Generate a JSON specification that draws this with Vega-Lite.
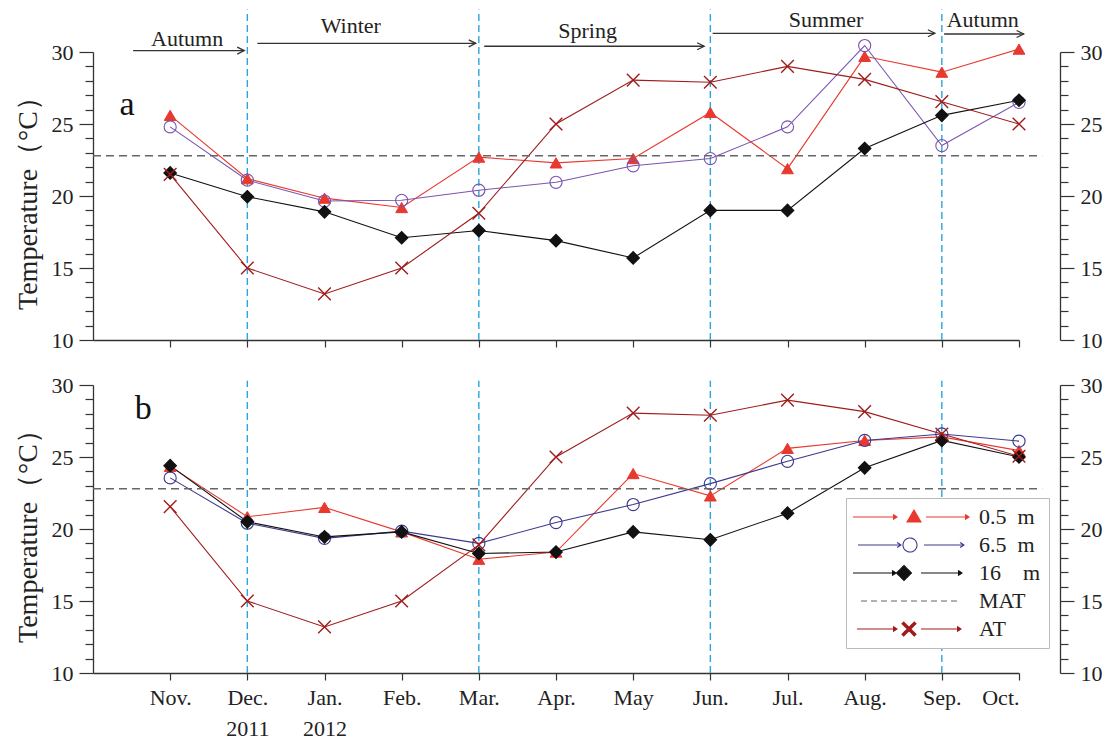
{
  "$schema": "https://vega.github.io/schema/vega-lite/v6.json",
  "padding": {"left": 14, "top": 8, "right": 5, "bottom": 0},
  "background": "white",
  "config": {"view": {"stroke": null}, "font": "Liberation Serif"},
  "datasets": {
    "temps": [
      {"panel":"a","month":"Nov.","m":1,"series":"0.5 m","T":25.6},{"panel":"a","month":"Nov.","m":1,"series":"6.5 m","T":24.8},{"panel":"a","month":"Nov.","m":1,"series":"16 m","T":21.6},{"panel":"a","month":"Nov.","m":1,"series":"AT","T":21.5},
      {"panel":"a","month":"Dec.","m":2,"series":"0.5 m","T":21.2},{"panel":"a","month":"Dec.","m":2,"series":"6.5 m","T":21.1},{"panel":"a","month":"Dec.","m":2,"series":"16 m","T":19.95},{"panel":"a","month":"Dec.","m":2,"series":"AT","T":15.0},
      {"panel":"a","month":"Jan.","m":3,"series":"0.5 m","T":19.85},{"panel":"a","month":"Jan.","m":3,"series":"6.5 m","T":19.65},{"panel":"a","month":"Jan.","m":3,"series":"16 m","T":18.9},{"panel":"a","month":"Jan.","m":3,"series":"AT","T":13.2},
      {"panel":"a","month":"Feb.","m":4,"series":"0.5 m","T":19.2},{"panel":"a","month":"Feb.","m":4,"series":"6.5 m","T":19.7},{"panel":"a","month":"Feb.","m":4,"series":"16 m","T":17.1},{"panel":"a","month":"Feb.","m":4,"series":"AT","T":15.0},
      {"panel":"a","month":"Mar.","m":5,"series":"0.5 m","T":22.7},{"panel":"a","month":"Mar.","m":5,"series":"6.5 m","T":20.4},{"panel":"a","month":"Mar.","m":5,"series":"16 m","T":17.6},{"panel":"a","month":"Mar.","m":5,"series":"AT","T":18.8},
      {"panel":"a","month":"Apr.","m":6,"series":"0.5 m","T":22.3},{"panel":"a","month":"Apr.","m":6,"series":"6.5 m","T":20.95},{"panel":"a","month":"Apr.","m":6,"series":"16 m","T":16.9},{"panel":"a","month":"Apr.","m":6,"series":"AT","T":25.0},
      {"panel":"a","month":"May","m":7,"series":"0.5 m","T":22.6},{"panel":"a","month":"May","m":7,"series":"6.5 m","T":22.1},{"panel":"a","month":"May","m":7,"series":"16 m","T":15.7},{"panel":"a","month":"May","m":7,"series":"AT","T":28.05},
      {"panel":"a","month":"Jun.","m":8,"series":"0.5 m","T":25.8},{"panel":"a","month":"Jun.","m":8,"series":"6.5 m","T":22.6},{"panel":"a","month":"Jun.","m":8,"series":"16 m","T":19.0},{"panel":"a","month":"Jun.","m":8,"series":"AT","T":27.9},
      {"panel":"a","month":"Jul.","m":9,"series":"0.5 m","T":21.9},{"panel":"a","month":"Jul.","m":9,"series":"6.5 m","T":24.8},{"panel":"a","month":"Jul.","m":9,"series":"16 m","T":19.0},{"panel":"a","month":"Jul.","m":9,"series":"AT","T":29.0},
      {"panel":"a","month":"Aug.","m":10,"series":"0.5 m","T":29.7},{"panel":"a","month":"Aug.","m":10,"series":"6.5 m","T":30.45},{"panel":"a","month":"Aug.","m":10,"series":"16 m","T":23.3},{"panel":"a","month":"Aug.","m":10,"series":"AT","T":28.1},
      {"panel":"a","month":"Sep.","m":11,"series":"0.5 m","T":28.6},{"panel":"a","month":"Sep.","m":11,"series":"6.5 m","T":23.5},{"panel":"a","month":"Sep.","m":11,"series":"16 m","T":25.6},{"panel":"a","month":"Sep.","m":11,"series":"AT","T":26.55},
      {"panel":"a","month":"Oct.","m":12,"series":"0.5 m","T":30.2},{"panel":"a","month":"Oct.","m":12,"series":"6.5 m","T":26.5},{"panel":"a","month":"Oct.","m":12,"series":"16 m","T":26.65},{"panel":"a","month":"Oct.","m":12,"series":"AT","T":25.0},
      {"panel":"b","month":"Nov.","m":1,"series":"0.5 m","T":24.35},{"panel":"b","month":"Nov.","m":1,"series":"6.5 m","T":23.55},{"panel":"b","month":"Nov.","m":1,"series":"16 m","T":24.4},{"panel":"b","month":"Nov.","m":1,"series":"AT","T":21.55},
      {"panel":"b","month":"Dec.","m":2,"series":"0.5 m","T":20.85},{"panel":"b","month":"Dec.","m":2,"series":"6.5 m","T":20.4},{"panel":"b","month":"Dec.","m":2,"series":"16 m","T":20.5},{"panel":"b","month":"Dec.","m":2,"series":"AT","T":15.0},
      {"panel":"b","month":"Jan.","m":3,"series":"0.5 m","T":21.5},{"panel":"b","month":"Jan.","m":3,"series":"6.5 m","T":19.35},{"panel":"b","month":"Jan.","m":3,"series":"16 m","T":19.45},{"panel":"b","month":"Jan.","m":3,"series":"AT","T":13.2},
      {"panel":"b","month":"Feb.","m":4,"series":"0.5 m","T":19.8},{"panel":"b","month":"Feb.","m":4,"series":"6.5 m","T":19.85},{"panel":"b","month":"Feb.","m":4,"series":"16 m","T":19.8},{"panel":"b","month":"Feb.","m":4,"series":"AT","T":15.0},
      {"panel":"b","month":"Mar.","m":5,"series":"0.5 m","T":17.9},{"panel":"b","month":"Mar.","m":5,"series":"6.5 m","T":19.0},{"panel":"b","month":"Mar.","m":5,"series":"16 m","T":18.3},{"panel":"b","month":"Mar.","m":5,"series":"AT","T":18.9},
      {"panel":"b","month":"Apr.","m":6,"series":"0.5 m","T":18.4},{"panel":"b","month":"Apr.","m":6,"series":"6.5 m","T":20.45},{"panel":"b","month":"Apr.","m":6,"series":"16 m","T":18.4},{"panel":"b","month":"Apr.","m":6,"series":"AT","T":25.0},
      {"panel":"b","month":"May","m":7,"series":"0.5 m","T":23.85},{"panel":"b","month":"May","m":7,"series":"6.5 m","T":21.7},{"panel":"b","month":"May","m":7,"series":"16 m","T":19.8},{"panel":"b","month":"May","m":7,"series":"AT","T":28.05},
      {"panel":"b","month":"Jun.","m":8,"series":"0.5 m","T":22.3},{"panel":"b","month":"Jun.","m":8,"series":"6.5 m","T":23.15},{"panel":"b","month":"Jun.","m":8,"series":"16 m","T":19.25},{"panel":"b","month":"Jun.","m":8,"series":"AT","T":27.9},
      {"panel":"b","month":"Jul.","m":9,"series":"0.5 m","T":25.6},{"panel":"b","month":"Jul.","m":9,"series":"6.5 m","T":24.7},{"panel":"b","month":"Jul.","m":9,"series":"16 m","T":21.1},{"panel":"b","month":"Jul.","m":9,"series":"AT","T":28.95},
      {"panel":"b","month":"Aug.","m":10,"series":"0.5 m","T":26.15},{"panel":"b","month":"Aug.","m":10,"series":"6.5 m","T":26.15},{"panel":"b","month":"Aug.","m":10,"series":"16 m","T":24.25},{"panel":"b","month":"Aug.","m":10,"series":"AT","T":28.15},
      {"panel":"b","month":"Sep.","m":11,"series":"0.5 m","T":26.4},{"panel":"b","month":"Sep.","m":11,"series":"6.5 m","T":26.6},{"panel":"b","month":"Sep.","m":11,"series":"16 m","T":26.15},{"panel":"b","month":"Sep.","m":11,"series":"AT","T":26.6},
      {"panel":"b","month":"Oct.","m":12,"series":"0.5 m","T":25.45},{"panel":"b","month":"Oct.","m":12,"series":"6.5 m","T":26.1},{"panel":"b","month":"Oct.","m":12,"series":"16 m","T":25.0},{"panel":"b","month":"Oct.","m":12,"series":"AT","T":25.05}
    ],
    "boundaries": [{"m":2},{"m":5},{"m":8},{"m":11}],
    "seasons": [
      {"season":"Autumn","start":0.52,"end":1.96,"arrowAt":30.1,"mid":1.22,"textAt":30.9},
      {"season":"Winter","start":2.13,"end":4.96,"arrowAt":30.6,"mid":3.34,"textAt":31.8},
      {"season":"Spring","start":5.07,"end":7.92,"arrowAt":30.4,"mid":6.41,"textAt":31.45},
      {"season":"Summer","start":8.03,"end":10.91,"arrowAt":31.3,"mid":9.5,"textAt":32.2},
      {"season":"Autumn","start":11.03,"end":12.06,"arrowAt":31.25,"mid":11.53,"textAt":32.2}
    ],
    "mat": [{"name":"MAT","T":22.8}]
  },
  "vconcat": [
    {
      "width": 926,
      "height": 288,
      "layer": [
        {
          "data": {"name": "boundaries"},
          "mark": {"type": "rule", "strokeDash": [7, 4], "color": "#2ba5df", "strokeWidth": 1.4},
          "encoding": {
            "x": {"field": "m", "type": "quantitative", "scale": {"domain": [0, 12], "nice": false, "zero": false},
              "axis": {"title": null, "values": [1,2,3,4,5,6,7,8,9,10,11,12], "labels": false, "tickSize": 7, "grid": false, "domainColor": "#333", "tickColor": "#333", "domainWidth": 1.3, "tickWidth": 1.2}},
            "y": {"datum": 10, "type": "quantitative", "scale": {"domain": [10, 30], "nice": false, "zero": false},
              "axis": {"orient": "left", "title": "Temperature（°C）", "values": [10,11,12,13,14,15,16,17,18,19,20,21,22,23,24,25,26,27,28,29,30],
                "labelExpr": "datum.value % 5 === 0 ? datum.label : ''", "labelOverlap": false,
                "tickSize": {"condition": {"test": "datum.value % 5 === 0", "value": 14}, "value": 8},
                "labelFont": "Liberation Serif", "labelFontSize": 22, "labelColor": "#222", "labelPadding": 6,
                "titleFont": "Liberation Serif", "titleFontSize": 28, "titleFontWeight": "normal", "titleColor": "#222", "titlePadding": 9,
                "grid": false, "domainColor": "#333", "tickColor": "#333", "domainWidth": 1.3, "tickWidth": 1.2}},
            "y2": {"datum": 32.95}
          }
        },
        {
          "layer": [
            {
              "data": {"name": "temps"},
              "transform": [{"filter": "datum.panel === 'a'"}],
              "mark": {"type": "line", "strokeWidth": 1.1},
              "encoding": {
                "x": {"field": "m", "type": "quantitative", "scale": {"domain": [0, 12], "nice": false, "zero": false}},
                "y": {"field": "T", "type": "quantitative", "scale": {"domain": [10, 30], "nice": false, "zero": false}, "axis": null},
                "color": {"field": "series", "type": "nominal", "scale": {"domain": ["0.5 m", "6.5 m", "16 m", "MAT", "AT"], "range": ["#e8392f", "#7a55b0", "#111111", "#666666", "#a01c1c"]}, "legend": null}
              }
            },
            {
              "data": {"name": "temps"},
              "transform": [{"filter": "datum.panel === 'a'"}],
              "mark": {"type": "point", "opacity": 1},
              "encoding": {
                "x": {"field": "m", "type": "quantitative", "scale": {"domain": [0, 12], "nice": false, "zero": false}},
                "y": {"field": "T", "type": "quantitative", "scale": {"domain": [10, 30], "nice": false, "zero": false}, "axis": null},
                "shape": {"field": "series", "type": "nominal", "scale": {"domain": ["0.5 m", "6.5 m", "16 m", "AT"], "range": ["triangle-up", "circle", "diamond", "M-1,-1L1,1M-1,1L1,-1"]}, "legend": null},
                "fill": {"field": "series", "type": "nominal", "scale": {"domain": ["0.5 m", "6.5 m", "16 m", "AT"], "range": ["#e8392f", "transparent", "#111111", "transparent"]}, "legend": null},
                "stroke": {"field": "series", "type": "nominal", "scale": {"domain": ["0.5 m", "6.5 m", "16 m", "AT"], "range": ["#e8392f", "#7a55b0", "#111111", "#a01c1c"]}, "legend": null},
                "size": {"field": "series", "type": "nominal", "scale": {"domain": ["0.5 m", "6.5 m", "16 m", "AT"], "range": [140, 160, 130, 150]}, "legend": null},
                "strokeWidth": {"field": "series", "type": "nominal", "scale": {"domain": ["0.5 m", "6.5 m", "16 m", "AT"], "range": [1, 1.4, 1, 2.2]}, "legend": null}
              }
            },
            {
              "data": {"name": "seasons"},
              "mark": {"type": "rule", "color": "#333", "strokeWidth": 1.3},
              "encoding": {
                "x": {"field": "start", "type": "quantitative", "scale": {"domain": [0, 12], "nice": false, "zero": false}},
                "x2": {"field": "end"},
                "y": {"field": "arrowAt", "type": "quantitative", "scale": {"domain": [10, 30], "nice": false, "zero": false}, "axis": null}
              }
            },
            {
              "data": {"name": "seasons"},
              "mark": {"type": "point", "shape": "M-2,-1L0,0L-2,1", "size": 49, "filled": false, "stroke": "#333", "strokeWidth": 1.3, "opacity": 1},
              "encoding": {
                "x": {"field": "end", "type": "quantitative", "scale": {"domain": [0, 12], "nice": false, "zero": false}},
                "y": {"field": "arrowAt", "type": "quantitative", "scale": {"domain": [10, 30], "nice": false, "zero": false}, "axis": null}
              }
            },
            {
              "data": {"name": "seasons"},
              "mark": {"type": "text", "font": "Liberation Serif", "fontSize": 22, "color": "#222", "baseline": "middle", "align": "center"},
              "encoding": {
                "x": {"field": "mid", "type": "quantitative", "scale": {"domain": [0, 12], "nice": false, "zero": false}},
                "y": {"field": "textAt", "type": "quantitative", "scale": {"domain": [10, 30], "nice": false, "zero": false}, "axis": null},
                "text": {"field": "season"}
              }
            },
            {
              "data": {"values": [{"panelLabel": "a"}]},
              "mark": {"type": "text", "font": "Liberation Serif", "fontSize": 34, "color": "#111", "baseline": "middle", "align": "center"},
              "encoding": {
                "x": {"datum": 0.44, "type": "quantitative", "scale": {"domain": [0, 12], "nice": false, "zero": false}},
                "y": {"datum": 26.3, "type": "quantitative", "scale": {"domain": [10, 30], "nice": false, "zero": false}, "axis": null},
                "text": {"field": "panelLabel"}
              }
            }
          ]
        },
        {
          "data": {"name": "mat"},
          "mark": {"type": "rule", "strokeDash": [8, 5], "color": "#666", "strokeWidth": 1.4},
          "encoding": {
            "x": {"datum": 0, "type": "quantitative", "scale": {"domain": [0, 12], "nice": false, "zero": false}},
            "x2": {"datum": 12.3},
            "y": {"field": "T", "type": "quantitative", "scale": {"domain": [10, 30], "nice": false, "zero": false},
              "axis": {"orient": "right", "offset": 41, "title": null, "values": [10,11,12,13,14,15,16,17,18,19,20,21,22,23,24,25,26,27,28,29,30],
                "labelExpr": "datum.value % 5 === 0 ? datum.label : ''", "labelOverlap": false,
                "tickSize": {"condition": {"test": "datum.value % 5 === 0", "value": 14}, "value": 8},
                "labelFont": "Liberation Serif", "labelFontSize": 22, "labelColor": "#222", "labelPadding": 6,
                "grid": false, "domainColor": "#333", "tickColor": "#333", "domainWidth": 1.3, "tickWidth": 1.2}}
          }
        }
      ],
      "resolve": {"scale": {"y": "independent"}}
    },
    {
      "width": 926,
      "height": 288,
      "layer": [
        {
          "data": {"name": "boundaries"},
          "mark": {"type": "rule", "strokeDash": [7, 4], "color": "#2ba5df", "strokeWidth": 1.4},
          "encoding": {
            "x": {"field": "m", "type": "quantitative", "scale": {"domain": [0, 12], "nice": false, "zero": false},
              "axis": {"title": null, "values": [1,2,3,4,5,6,7,8,9,10,11,12],
                "labelExpr": "[['Nov.'], ['Dec.', '2011'], ['Jan.', '2012'], ['Feb.'], ['Mar.'], ['Apr.'], ['May'], ['Jun.'], ['Jul.'], ['Aug.'], ['Sep.'], ['Oct.']][datum.value - 1]",
                "labelFont": "Liberation Serif", "labelFontSize": 22, "labelColor": "#222", "labelLineHeight": 31, "labelPadding": 7, "labelOverlap": false,
                "tickSize": 7, "grid": false, "domainColor": "#333", "tickColor": "#333", "domainWidth": 1.3, "tickWidth": 1.2}},
            "y": {"datum": 10, "type": "quantitative", "scale": {"domain": [10, 30], "nice": false, "zero": false},
              "axis": {"orient": "left", "title": "Temperature（°C）", "values": [10,11,12,13,14,15,16,17,18,19,20,21,22,23,24,25,26,27,28,29,30],
                "labelExpr": "datum.value % 5 === 0 ? datum.label : ''", "labelOverlap": false,
                "tickSize": {"condition": {"test": "datum.value % 5 === 0", "value": 14}, "value": 8},
                "labelFont": "Liberation Serif", "labelFontSize": 22, "labelColor": "#222", "labelPadding": 6,
                "titleFont": "Liberation Serif", "titleFontSize": 28, "titleFontWeight": "normal", "titleColor": "#222", "titlePadding": 9,
                "grid": false, "domainColor": "#333", "tickColor": "#333", "domainWidth": 1.3, "tickWidth": 1.2}},
            "y2": {"datum": 30.3}
          }
        },
        {
          "layer": [
            {
              "data": {"name": "temps"},
              "transform": [{"filter": "datum.panel === 'b'"}],
              "mark": {"type": "line", "strokeWidth": 1.1},
              "encoding": {
                "x": {"field": "m", "type": "quantitative", "scale": {"domain": [0, 12], "nice": false, "zero": false}},
                "y": {"field": "T", "type": "quantitative", "scale": {"domain": [10, 30], "nice": false, "zero": false}, "axis": null},
                "color": {"field": "series", "type": "nominal", "scale": {"domain": ["0.5 m", "6.5 m", "16 m", "MAT", "AT"], "range": ["#e8392f", "#3d3a8e", "#111111", "#666666", "#a01c1c"]},
                  "legend": {"title": null, "orient": "none", "legendX": 753, "legendY": 113, "direction": "vertical",
                    "padding": 8, "strokeColor": "#bbbbbb", "fillColor": "white", "symbolSize": 4, "labelOffset": 103, "rowPadding": 6,
                    "labelFont": "Liberation Serif", "labelFontSize": 22, "labelColor": "#222",
                    "labelExpr": "datum.label === '0.5 m' ? '0.5\u00a0\u00a0m' : datum.label === '6.5 m' ? '6.5\u00a0\u00a0m' : datum.label === '16 m' ? '16\u00a0\u00a0\u00a0\u00a0m' : datum.label",
                    "encode": {"symbols": {"update": {
                      "shape": {"signal": "datum.value === '0.5 m' ? 'M-12,0H32M28,-2.5L32,0L28,2.5M61,0H104M100,-2.5L104,0L100,2.5M42,5L49,-7L56,5Z' : datum.value === '6.5 m' ? 'M-7,0H36M32,-2.5L36,0L32,2.5M59,0H99M95,-2.5L99,0L95,2.5M52,0A7,7 0 1,1 38,0A7,7 0 1,1 52,0Z' : datum.value === '16 m' ? 'M-12,0H31M27,-2.5L31,0L27,2.5M56,0H97M93,-2.5L97,0L93,2.5M39,-7.5L46.5,0L39,7.5L31.5,0Z' : datum.value === 'MAT' ? 'M-4,0H96' : 'M-8,0H32M28,-2.5L32,0L28,2.5M56,0H96M92,-2.5L96,0L92,2.5M44,-1.7L49.3,-7L51,-5.3L45.7,0L51,5.3L49.3,7L44,1.7L38.7,7L37,5.3L42.3,0L37,-5.3L38.7,-7Z'"},
                      "fill": {"signal": "datum.value === '0.5 m' ? '#e8392f' : datum.value === '16 m' ? '#111111' : datum.value === 'AT' ? '#a01c1c' : 'transparent'"},
                      "stroke": {"signal": "datum.value === '0.5 m' ? '#e8392f' : datum.value === '6.5 m' ? '#7a55b0' : datum.value === '16 m' ? '#111111' : datum.value === 'MAT' ? '#666666' : '#a01c1c'"},
                      "strokeDash": {"signal": "datum.value === 'MAT' ? [6, 4] : [1, 0]"},
                      "strokeWidth": {"value": 1.1},
                      "size": {"value": 4},
                      "opacity": {"value": 1}
                    }}}
                  }}
              }
            },
            {
              "data": {"name": "temps"},
              "transform": [{"filter": "datum.panel === 'b'"}],
              "mark": {"type": "point", "opacity": 1},
              "encoding": {
                "x": {"field": "m", "type": "quantitative", "scale": {"domain": [0, 12], "nice": false, "zero": false}},
                "y": {"field": "T", "type": "quantitative", "scale": {"domain": [10, 30], "nice": false, "zero": false}, "axis": null},
                "shape": {"field": "series", "type": "nominal", "scale": {"domain": ["0.5 m", "6.5 m", "16 m", "AT"], "range": ["triangle-up", "circle", "diamond", "M-1,-1L1,1M-1,1L1,-1"]}, "legend": null},
                "fill": {"field": "series", "type": "nominal", "scale": {"domain": ["0.5 m", "6.5 m", "16 m", "AT"], "range": ["#e8392f", "transparent", "#111111", "transparent"]}, "legend": null},
                "stroke": {"field": "series", "type": "nominal", "scale": {"domain": ["0.5 m", "6.5 m", "16 m", "AT"], "range": ["#e8392f", "#3d3a8e", "#111111", "#a01c1c"]}, "legend": null},
                "size": {"field": "series", "type": "nominal", "scale": {"domain": ["0.5 m", "6.5 m", "16 m", "AT"], "range": [140, 160, 130, 150]}, "legend": null},
                "strokeWidth": {"field": "series", "type": "nominal", "scale": {"domain": ["0.5 m", "6.5 m", "16 m", "AT"], "range": [1, 1.4, 1, 2.2]}, "legend": null}
              }
            },
            {
              "data": {"values": [{"panelLabel": "b"}]},
              "mark": {"type": "text", "font": "Liberation Serif", "fontSize": 34, "color": "#111", "baseline": "middle", "align": "center"},
              "encoding": {
                "x": {"datum": 0.65, "type": "quantitative", "scale": {"domain": [0, 12], "nice": false, "zero": false}},
                "y": {"datum": 28.3, "type": "quantitative", "scale": {"domain": [10, 30], "nice": false, "zero": false}, "axis": null},
                "text": {"field": "panelLabel"}
              }
            }
          ]
        },
        {
          "data": {"name": "mat"},
          "mark": {"type": "rule", "strokeDash": [8, 5], "color": "#666", "strokeWidth": 1.4},
          "encoding": {
            "x": {"datum": 0, "type": "quantitative", "scale": {"domain": [0, 12], "nice": false, "zero": false}},
            "x2": {"datum": 12.3},
            "y": {"field": "T", "type": "quantitative", "scale": {"domain": [10, 30], "nice": false, "zero": false},
              "axis": {"orient": "right", "offset": 41, "title": null, "values": [10,11,12,13,14,15,16,17,18,19,20,21,22,23,24,25,26,27,28,29,30],
                "labelExpr": "datum.value % 5 === 0 ? datum.label : ''", "labelOverlap": false,
                "tickSize": {"condition": {"test": "datum.value % 5 === 0", "value": 14}, "value": 8},
                "labelFont": "Liberation Serif", "labelFontSize": 22, "labelColor": "#222", "labelPadding": 6,
                "grid": false, "domainColor": "#333", "tickColor": "#333", "domainWidth": 1.3, "tickWidth": 1.2}}
          }
        }
      ],
      "resolve": {"scale": {"y": "independent"}}
    }
  ],
  "spacing": 23,
  "resolve": {
    "scale": {"color": "independent", "fill": "independent", "stroke": "independent", "shape": "independent", "size": "independent", "strokeWidth": "independent"},
    "legend": {"color": "independent", "fill": "independent", "stroke": "independent", "shape": "independent", "size": "independent", "strokeWidth": "independent"}
  }
}
